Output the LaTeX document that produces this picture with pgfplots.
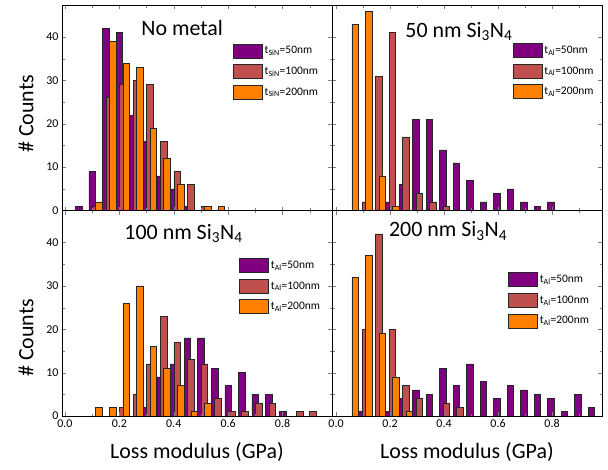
\documentclass[border=0pt]{standalone}
\usepackage{fontspec}
\setmainfont{Carlito}
\usepackage{pgfplots}
\pgfplotsset{compat=1.18}
\usepgfplotslibrary{groupplots}

\definecolor{cA}{HTML}{800080}
\definecolor{cB}{HTML}{C0504D}
\definecolor{cC}{HTML}{FF8000}

\tikzset{ttl/.style={font=\fontsize{22}{22}\selectfont, inner sep=0pt}}

\pgfplotsset{
  hist/.style={
    width=270bp, height=205.5bp, scale only axis,
    ymin=0, ymax=47.4,
    ybar, bar width=0.0245,
    axis on top,
    ytick={0,10,20,30,40}, minor y tick num=1,
    xtick={0,0.2,0.4,0.6,0.8,1.0}, minor x tick num=1,
    tick align=inside,
    major tick length=4bp, minor tick length=2.5bp,
    /pgf/number format/assume math mode=true,
    ticklabel style={font=\fontsize{12}{12}\selectfont},
    xticklabel style={/pgf/number format/.cd, fixed, fixed zerofill, precision=1},
    every axis plot/.append style={draw=black!85, line width=0.6bp},
    legend image code/.code={\draw[##1] (0bp,-7bp) rectangle (29bp,7bp);},
    legend style={draw=none, fill=none, anchor=north west, inner sep=0pt,
      row sep=6bp, font=\fontsize{11.5}{11.5}\selectfont},
    legend cell align=left,
    every axis x label/.style={at={(axis description cs:0.5,-0.175)}, anchor=center,
      font=\fontsize{22}{22}\selectfont},
    xlabel={Loss modulus (GPa)},
  },
}

\begin{document}
\begin{tikzpicture}
\begin{groupplot}[group style={group size=2 by 2, horizontal sep=0pt, vertical sep=0pt,
    xticklabels at=edge bottom, yticklabels at=edge left, xlabels at=edge bottom}, hist]

% No metal
\nextgroupplot[xmin=-0.011, xmax=0.982,
  ylabel={\# Counts},
  every axis y label/.style={at={(axis description cs:-0.133,0.47)}, rotate=90, anchor=center,
    font=\fontsize{22}{22}\selectfont},
  legend style={at={(axis description cs:0.633,0.813)}}]
\node[ttl] at (axis description cs:0.445,0.89) {No metal};
\addplot[fill=cA, bar shift=0] coordinates {
  (0.05,1) (0.10,9) (0.15,42) (0.20,41) (0.25,22) (0.30,16) (0.35,8) (0.40,5) (0.45,1)};
\addplot[fill=cB, bar shift=0.0125] coordinates {
  (0.10,1) (0.15,26) (0.20,29) (0.25,30) (0.30,29) (0.35,16) (0.40,9) (0.45,6) (0.50,1)};
\addplot[fill=cC, bar shift=0.025] coordinates {
  (0.10,2) (0.15,39) (0.20,34) (0.25,33) (0.30,19) (0.35,12) (0.40,6) (0.50,1) (0.55,1)};
\legend{t\textsubscript{SiN}=50nm, t\textsubscript{SiN}=100nm, t\textsubscript{SiN}=200nm}

% 50 nm Si3N4
\nextgroupplot[xmin=-0.015, xmax=0.985,
  legend style={at={(axis description cs:0.669,0.815)}}]
\node[ttl] at (axis description cs:0.47,0.87) {50 nm Si\textsubscript{3}N\textsubscript{4}};
\addplot[fill=cA, bar shift=-0.004] coordinates {
  (0.20,2) (0.25,6) (0.30,21) (0.35,21) (0.40,14) (0.45,11) (0.50,7) (0.55,2)
  (0.60,4) (0.65,5) (0.70,2) (0.75,1) (0.80,2)};
\addplot[fill=cB, bar shift=0.0085] coordinates {
  (0.10,2) (0.15,31) (0.20,41) (0.25,17) (0.30,4) (0.35,2) (0.40,1)};
\addplot[fill=cC, bar shift=0.021] coordinates {
  (0.05,43) (0.10,46) (0.15,8) (0.20,1)};
\legend{t\textsubscript{Al}=50nm, t\textsubscript{Al}=100nm, t\textsubscript{Al}=200nm}

% 100 nm Si3N4
\nextgroupplot[xmin=-0.011, xmax=0.982,
  ylabel={\# Counts},
  every axis y label/.style={at={(axis description cs:-0.133,0.38)}, rotate=90, anchor=center,
    font=\fontsize{22}{22}\selectfont},
  legend style={at={(axis description cs:0.656,0.769)}}]
\node[ttl] at (axis description cs:0.45,0.89) {100 nm Si\textsubscript{3}N\textsubscript{4}};
\addplot[fill=cA, bar shift=0] coordinates {
  (0.30,2) (0.35,9) (0.40,12) (0.45,18) (0.50,18) (0.55,11) (0.60,7) (0.65,10)
  (0.70,5) (0.75,5) (0.80,1)};
\addplot[fill=cB, bar shift=0.0125] coordinates {
  (0.20,2) (0.25,5) (0.30,12) (0.35,23) (0.40,17) (0.45,13) (0.50,12) (0.55,4)
  (0.60,1) (0.65,1) (0.70,3) (0.75,3) (0.85,1) (0.90,1)};
\addplot[fill=cC, bar shift=0.025] coordinates {
  (0.10,2) (0.15,2) (0.20,26) (0.25,30) (0.30,16) (0.35,11) (0.40,7) (0.45,1) (0.50,3)};
\legend{t\textsubscript{Al}=50nm, t\textsubscript{Al}=100nm, t\textsubscript{Al}=200nm}

% 200 nm Si3N4
\nextgroupplot[xmin=-0.015, xmax=0.985,
  legend style={at={(axis description cs:0.652,0.70)}}]
\node[ttl] at (axis description cs:0.43,0.90) {200 nm Si\textsubscript{3}N\textsubscript{4}};
\addplot[fill=cA, bar shift=-0.004] coordinates {
  (0.10,1) (0.20,1) (0.25,4) (0.30,6) (0.35,5) (0.40,11) (0.45,7) (0.50,12) (0.55,8)
  (0.60,4) (0.65,7) (0.70,6) (0.75,5) (0.80,4) (0.85,1) (0.90,5) (0.95,2)};
\addplot[fill=cB, bar shift=0.0085] coordinates {
  (0.10,20) (0.15,42) (0.20,20) (0.25,7) (0.30,4) (0.40,3) (0.45,2)};
\addplot[fill=cC, bar shift=0.021] coordinates {
  (0.05,32) (0.10,37) (0.15,19) (0.20,9) (0.25,1)};
\legend{t\textsubscript{Al}=50nm, t\textsubscript{Al}=100nm, t\textsubscript{Al}=200nm}
\end{groupplot}
\pgfresetboundingbox
\path[use as bounding box] ([shift={(-62bp,5bp)}]group c1r1.north west)
  rectangle ([shift={(6bp,-53bp)}]group c2r2.south east);
\end{tikzpicture}
\end{document}
